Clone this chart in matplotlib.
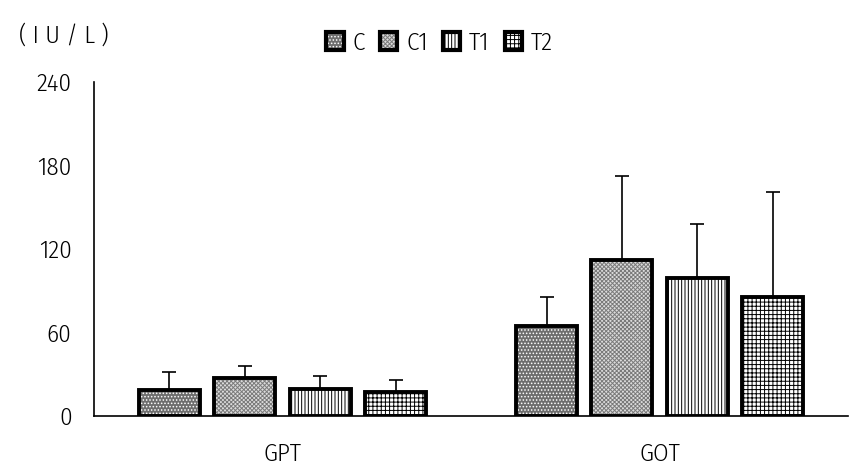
import numpy as np
import matplotlib
matplotlib.use("Agg")
import matplotlib.pyplot as plt

CATEGORIES = ["GPT", "GOT"]
SERIES = ["C", "C1", "T1", "T2"]
MEANS = {
    "C": [18.7, 64.7],
    "C1": [27.3, 111.9],
    "T1": [19.6, 99.1],
    "T2": [17.5, 85.5],
}
ERRORS = {
    "C": [13.3, 21.1],
    "C1": [8.4, 61.0],
    "T1": [8.9, 39.3],
    "T2": [8.1, 75.7],
}
Y_TICKS = [0, 60, 120, 180, 240]

# face colour, hatch, hatch colour
STYLES = {
    "C": ("#6e6e6e", ".....", "white"),
    "C1": ("#dcdcdc", "xxxxxxxx", "#7a7a7a"),
    "T1": ("white", "|||||", "black"),
    "T2": ("white", "++++", "black"),
}

FONT = ["Fira Sans Condensed", "DejaVu Sans"]
FS = 18

plt.rcParams["hatch.linewidth"] = 0.7
plt.rcParams["font.family"] = FONT
plt.rcParams["font.weight"] = 350


def main():
    fig = plt.figure(figsize=(8.62, 4.75), dpi=100)
    ax = fig.add_axes([0.109, 0.124, 0.875, 0.703])

    x = np.arange(len(CATEGORIES))
    width = 0.162
    step = 0.2
    handles = []
    for i, name in enumerate(SERIES):
        face, hatch, hcol = STYLES[name]
        pos = x + (i - 1.5) * step
        ax.bar(pos, MEANS[name], width, color=face, hatch=hatch,
               edgecolor=hcol, linewidth=0, zorder=2)
        ax.bar(pos, MEANS[name], width, fill=False, edgecolor="black",
               linewidth=2.8, zorder=3)
        ax.errorbar(pos, MEANS[name],
                    yerr=[np.zeros(len(CATEGORIES)), ERRORS[name]],
                    fmt="none", ecolor="black", elinewidth=1.2,
                    capsize=4.7, capthick=1.2, zorder=1)
        h1 = plt.Rectangle((0, 0), 1, 1, facecolor=face, hatch=hatch,
                           edgecolor=hcol, linewidth=0)
        h2 = plt.Rectangle((0, 0), 1, 1, fill=False, edgecolor="black",
                           linewidth=3)
        handles.append((h1, h2))

    ax.set_xlim(-0.5, 1.5)
    ax.set_ylim(0, 240)
    ax.set_yticks(Y_TICKS)
    ax.set_yticklabels([str(v) for v in Y_TICKS], fontsize=FS)
    ax.set_xticks(x)
    ax.set_xticklabels(CATEGORIES, fontsize=FS)
    ax.tick_params(axis="y", length=0, pad=16)
    ax.tick_params(axis="x", length=0, pad=19)
    for side in ["top", "right"]:
        ax.spines[side].set_visible(False)
    for side in ["left", "bottom"]:
        ax.spines[side].set_linewidth(1.2)

    fig.text(0.074, 0.925, "( I U / L )", fontsize=FS,
             ha="center", va="center")

    fig.legend(handles, SERIES, loc="center", bbox_to_anchor=(0.51, 0.91),
               ncol=4, frameon=False, prop={"size": FS},
               handlelength=0.7, handleheight=0.7, handletextpad=0.35,
               columnspacing=0.6, borderpad=0)

    fig.savefig("out.png", dpi=100)


if __name__ == "__main__":
    main()
